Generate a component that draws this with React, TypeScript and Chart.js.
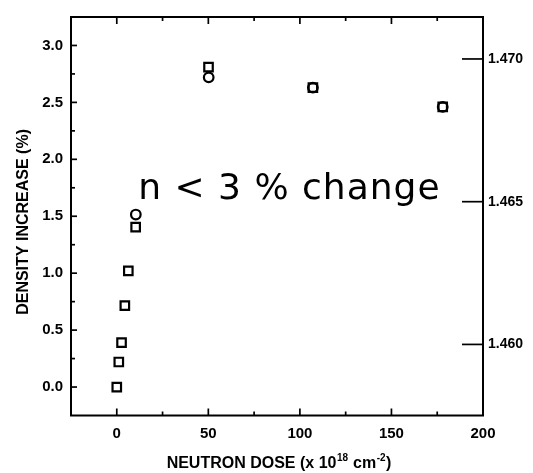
import React, { useEffect, useRef } from "react";
import { Chart, registerables } from "chart.js";
Chart.register(...registerables);

// Squares: density increase vs neutron dose
const squareDose = [0, 1.1, 2.6, 4.4, 6.3, 10.3, 50.1, 107.1, 178.0];
const squareDensity = [0.0, 0.22, 0.39, 0.715, 1.02, 1.405, 2.81, 2.63, 2.46];
// Circles: refractive index (plotted on the density scale)
const circleDose = [10.4, 50.2, 107.1, 178.0];
const circleDensity = [1.515, 2.72, 2.63, 2.46];

const xTickLabels = [0, 50, 100, 150, 200];
const xMinorTicks = [25, 75, 125, 175];
const yTickLabels = [0, 0.5, 1.0, 1.5, 2.0, 2.5, 3.0];
const yMinorTicks = [0.25, 0.75, 1.25, 1.75, 2.25, 2.75];
const indexTickLabels = [1.46, 1.465, 1.47];

const annotationText = "n < 3 % change";
const annotationAt = { x: 11.7, y: 1.65 };
const yTitle = "DENSITY INCREASE (%)";

const framePlugin = {
  id: "frameTicks",
  afterDraw(chart: any) {
    const { ctx, chartArea: a, scales } = chart;
    const x = scales.x, y = scales.y, yR = scales.yR;
    ctx.save();
    ctx.strokeStyle = "#000";
    ctx.lineWidth = 2;
    ctx.strokeRect(a.left, a.top, a.right - a.left, a.bottom - a.top);
    ctx.lineWidth = 1.7;
    const line = (x1: number, y1: number, x2: number, y2: number) => {
      ctx.beginPath();
      ctx.moveTo(x1, y1);
      ctx.lineTo(x2, y2);
      ctx.stroke();
    };
    // left ticks
    yTickLabels.forEach((v) => { const p = y.getPixelForValue(v); line(a.left, p, a.left + 6, p); });
    yMinorTicks.forEach((v) => { const p = y.getPixelForValue(v); line(a.left, p, a.left + 4, p); });
    // bottom/top ticks
    xTickLabels.slice(0, -1).forEach((v) => {
      const p = x.getPixelForValue(v);
      line(p, a.bottom, p, a.bottom - 7);
      line(p, a.top, p, a.top + 7);
    });
    xMinorTicks.forEach((v) => {
      const p = x.getPixelForValue(v);
      line(p, a.bottom, p, a.bottom - 4);
      line(p, a.top, p, a.top + 4);
    });
    // right ticks
    indexTickLabels.forEach((v) => { const p = yR.getPixelForValue(v); line(a.right, p, a.right - 21, p); });

    // annotation
    ctx.fillStyle = "#000";
    ctx.font = "36px 'DejaVu Sans'";
    (ctx as any).letterSpacing = "1px";
    ctx.textAlign = "left";
    ctx.textBaseline = "alphabetic";
    ctx.fillText(annotationText, x.getPixelForValue(annotationAt.x), y.getPixelForValue(annotationAt.y));
    (ctx as any).letterSpacing = "0px";

    // y title
    ctx.save();
    ctx.translate(24, y.getPixelForValue(1.45));
    ctx.rotate(-Math.PI / 2);
    ctx.font = "bold 16px 'Liberation Sans'";
    ctx.textAlign = "center";
    ctx.textBaseline = "middle";
    ctx.fillText(yTitle, 0, 0);
    ctx.restore();

    // x title with superscripts
    const parts: [string, boolean][] = [["NEUTRON DOSE (x 10", false], ["18", true], [" cm", false], ["-2", true], [")", false]];
    const mainFont = "bold 16px 'Liberation Sans'";
    const supFont = "bold 10px 'Liberation Sans'";
    let total = 0;
    parts.forEach(([t, s]) => { ctx.font = s ? supFont : mainFont; total += ctx.measureText(t).width + (s ? 1 : 0); });
    let cx = (a.left + a.right) / 2 + 2 - total / 2;
    const baseY = 468;
    ctx.textAlign = "left";
    ctx.textBaseline = "alphabetic";
    parts.forEach(([t, s]) => {
      ctx.font = s ? supFont : mainFont;
      ctx.fillText(t, cx + (s ? 0.5 : 0), s ? baseY - 7 : baseY);
      cx += ctx.measureText(t).width + (s ? 1 : 0);
    });
    ctx.restore();
  },
};

export default function App() {
  const ref = useRef<HTMLCanvasElement | null>(null);
  useEffect(() => {
    document.body.style.margin = "0";
    const canvas = ref.current;
    if (!canvas) return;
    const tickFont = { family: "'Liberation Sans'", weight: "bold" as const, size: 15 };
    const chart = new Chart(canvas, {
      type: "scatter",
      data: {
        datasets: [
          {
            label: "density",
            data: squareDose.map((d, i) => ({ x: d, y: squareDensity[i] })),
            pointStyle: "rect",
            pointRadius: 6,
            pointBorderWidth: 2.2,
            pointBorderColor: "#000",
            pointBackgroundColor: "rgba(255,255,255,0)",
          },
          {
            label: "index",
            data: circleDose.map((d, i) => ({ x: d, y: circleDensity[i] })),
            pointStyle: "circle",
            pointRadius: 4.8,
            pointBorderWidth: 2.2,
            pointBorderColor: "#000",
            pointBackgroundColor: "rgba(255,255,255,0)",
          },
        ],
      },
      options: {
        responsive: false,
        animation: false,
        devicePixelRatio: 1,
        layout: { padding: { top: 10.5, left: 0, right: 0, bottom: 0 } },
        plugins: { legend: { display: false }, tooltip: { enabled: false } },
        scales: {
          x: {
            type: "linear",
            position: "bottom",
            min: -25,
            max: 200,
            grid: { display: false, drawTicks: false },
            border: { display: false },
            afterBuildTicks: (s: any) => { s.ticks = xTickLabels.map((v) => ({ value: v })); },
            afterFit: (s: any) => { s.height = 57.5; },
            ticks: { padding: 9, color: "#000", font: tickFont, maxRotation: 0, autoSkip: false, callback: (v: any) => String(v) },
          },
          y: {
            type: "linear",
            position: "left",
            min: -0.25,
            max: 3.25,
            grid: { display: false, drawTicks: false },
            border: { display: false },
            afterBuildTicks: (s: any) => { s.ticks = yTickLabels.map((v) => ({ value: v })); },
            afterFit: (s: any) => { s.width = 71; },
            ticks: { padding: 8, color: "#000", font: tickFont, autoSkip: false, callback: (v: any) => Number(v).toFixed(1) },
          },
          yR: {
            type: "linear",
            position: "right",
            min: 1.45751,
            max: 1.47147,
            grid: { display: false, drawTicks: false },
            border: { display: false },
            afterBuildTicks: (s: any) => { s.ticks = indexTickLabels.map((v) => ({ value: v })); },
            afterFit: (s: any) => { s.width = 50; },
            ticks: { padding: 5, color: "#000", font: { ...tickFont, size: 14 }, autoSkip: false, callback: (v: any) => Number(v).toFixed(3) },
          },
        },
      },
      plugins: [framePlugin],
    });
    return () => chart.destroy();
  }, []);
  return <canvas ref={ref} width={533} height={473} style={{ display: "block" }} />;
}
